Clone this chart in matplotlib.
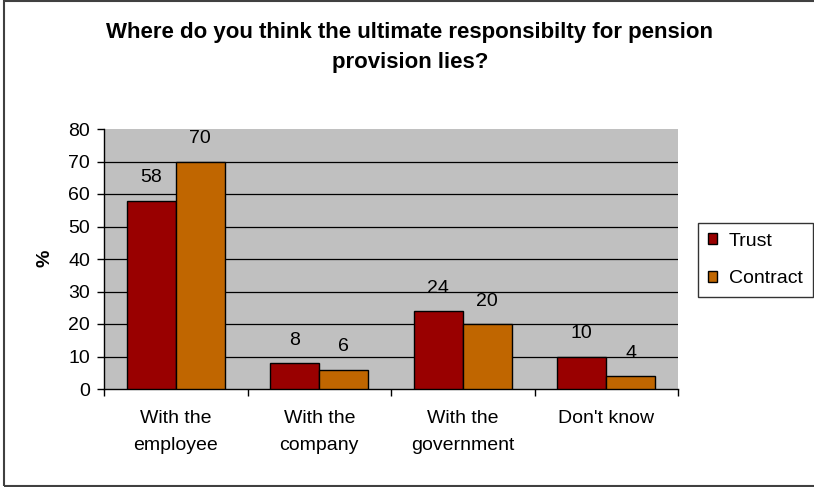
import matplotlib
matplotlib.use("Agg")
import matplotlib.pyplot as plt
import numpy as np
from matplotlib.patches import Rectangle

plt.rcParams['font.family'] = ['Liberation Sans', 'DejaVu Sans']

categories = ["With the\nemployee", "With the\ncompany", "With the\ngovernment", "Don't know"]
series_names = ["Trust", "Contract"]
trust = [58, 8, 24, 10]
contract = [70, 6, 20, 4]
y_ticks = [0, 10, 20, 30, 40, 50, 60, 70, 80]
colors = ["#990000", "#C06600"]
title_lines = ["Where do you think the ultimate responsibilty for pension", "provision lies?"]

W, H = 814, 487
FS = 14
fig = plt.figure(figsize=(W / 100, H / 100), dpi=100)
fig.patch.set_facecolor("white")

# plot area in pixel coordinates
left, right, top, bottom = 104, 678, 129, 389
ax = fig.add_axes([left / W, 1 - bottom / H, (right - left) / W, (bottom - top) / H])
ax.set_facecolor("#C0C0C0")

x = np.arange(len(categories))
bw = 0.34
for i, (vals, name, col) in enumerate(zip([trust, contract], series_names, colors)):
    pos = x + (i - 0.5) * bw
    ax.bar(pos, vals, width=bw, color=col, edgecolor="black", linewidth=1.0,
           label=name, zorder=3)
    for p, v in zip(pos, vals):
        ax.annotate(str(v), xy=(p, v), xytext=(0, 13), textcoords="offset points",
                    ha="center", va="baseline", fontsize=FS, color="black")

ax.set_xlim(-0.5, len(categories) - 0.5)
ax.set_ylim(0, 80)
ax.set_yticks(y_ticks)
ax.set_yticklabels([str(t) for t in y_ticks], fontsize=FS)
ax.yaxis.grid(True, color="black", linewidth=0.9, zorder=0)
ax.set_axisbelow(True)
ax.get_ygridlines()[-1].set_visible(False)
ax.get_ygridlines()[0].set_visible(False)

# category ticks sit between the groups
ax.set_xticks(np.arange(len(categories) + 1) - 0.5)
ax.set_xticklabels([])
ax.set_xticks(x, minor=True)
ax.set_xticklabels(categories, minor=True, fontsize=FS, linespacing=1.8)
ax.tick_params(axis="x", which="minor", length=0, pad=15)
ax.tick_params(axis="x", which="major", length=5, width=1, direction="out")
ax.tick_params(axis="y", length=5, width=1, direction="out", pad=5)

for s in ["top", "right"]:
    ax.spines[s].set_visible(False)
for s in ["left", "bottom"]:
    ax.spines[s].set_color("black")
    ax.spines[s].set_linewidth(1.0)

fig.text(45 / W, 1 - 258 / H, "%", rotation=90, ha="center", va="center",
         fontsize=FS, fontweight="bold")

# two-line title placed on its baselines
for line, base in zip(title_lines, [37.7, 68.3]):
    fig.text(410 / W, 1 - base / H, line, ha="center", va="baseline",
             fontsize=16, fontweight="bold")

# legend box
leg = ax.legend(loc="upper left",
                bbox_to_anchor=((698 - left) / (right - left), 1 - (223 - top) / (bottom - top)),
                bbox_transform=ax.transAxes, frameon=True, fancybox=False,
                fontsize=FS, handlelength=0.5, handleheight=0.5, handletextpad=0.6,
                labelspacing=1.05, borderpad=0.5, borderaxespad=0)
leg.get_frame().set_edgecolor("black")
leg.get_frame().set_linewidth(1.0)

# outer chart frame
fig.add_artist(Rectangle((4 / W, 1 - 486 / H), (W + 10) / W, 485 / H,
                         transform=fig.transFigure, fill=False,
                         edgecolor="#404040", linewidth=1.5))

fig.savefig("out.png", dpi=100)
